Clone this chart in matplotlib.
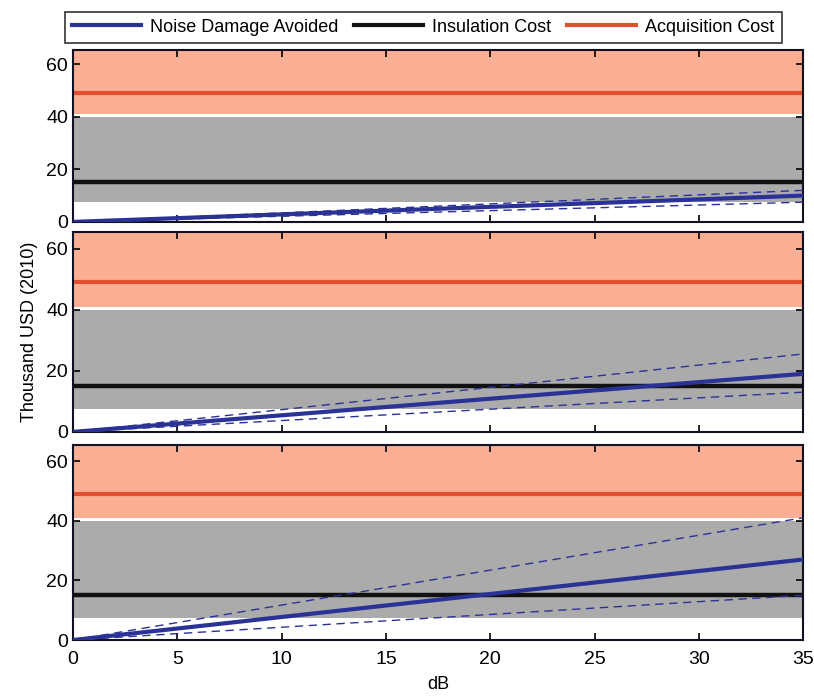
import matplotlib
matplotlib.use('Agg')
import matplotlib.pyplot as plt
from matplotlib.lines import Line2D

plt.rcParams['font.family'] = ['Liberation Sans', 'DejaVu Sans']

# x range endpoints (dB)
db = [0, 35]

# cost levels (thousand USD)
acq_cost = 49
acq_band = (41, 66)
ins_cost = 15
ins_band = (7.5, 40)

# noise damage avoided per panel: central, upper, lower at db endpoints
noise_mid = [[0, 10], [0, 19], [0, 27]]
noise_hi = [[0, 12], [0, 25.5], [0, 41]]
noise_lo = [[0, 7.5], [0, 13], [0, 15]]

xticks = [0, 5, 10, 15, 20, 25, 30, 35]
yticks = [0, 20, 40, 60]

blue = '#2b3296'
red = '#e0502e'
band_red = '#faae93'
band_grey = '#ababab'

fig = plt.figure(figsize=(8.14, 7), dpi=100)
rects = [
    [0.0897, 0.683, 0.897, 0.246],
    [0.0897, 0.383, 0.897, 0.286],
    [0.0897, 0.0857, 0.897, 0.279],
]

axes = []
for i, r in enumerate(rects):
    ax = fig.add_axes(r)
    ax.axhspan(acq_band[0], acq_band[1], color=band_red, lw=0, zorder=0)
    ax.axhspan(ins_band[0], ins_band[1], color=band_grey, lw=0, zorder=0)
    ax.plot(db, [acq_cost, acq_cost], color=red, lw=3, zorder=2)
    ax.plot(db, [ins_cost, ins_cost], color='#111111', lw=3.2, zorder=2)
    ax.plot(db, noise_hi[i], color=blue, lw=1, ls=(0, (6, 4)), zorder=3)
    ax.plot(db, noise_lo[i], color=blue, lw=1, ls=(0, (6, 4)), zorder=3)
    ax.plot(db, noise_mid[i], color=blue, lw=3, zorder=4)
    ax.set_xlim(0, 35)
    ax.set_ylim(0, 65.5)
    ax.set_xticks(xticks)
    ax.set_yticks(yticks)
    ax.tick_params(direction='in', top=True, right=True, labelsize=14, width=1.2, length=5)
    ax.tick_params(axis='x', pad=8)
    for s in ax.spines.values():
        s.set_linewidth(1.5)
        s.set_color('#111122')
    if i < 2:
        ax.set_xticklabels([])
    axes.append(ax)

axes[2].set_xlabel('dB', fontsize=13, labelpad=6)
axes[1].set_ylabel('Thousand USD (2010)', fontsize=13, labelpad=6)

handles = [
    Line2D([], [], color=blue, lw=3),
    Line2D([], [], color='#111111', lw=3),
    Line2D([], [], color=red, lw=3),
]
labels = ['Noise Damage Avoided', 'Insulation Cost', 'Acquisition Cost']
leg = fig.legend(handles, labels, loc='center', ncol=3, fontsize=13,
                 bbox_to_anchor=(0.52, 0.961), frameon=True, fancybox=False,
                 edgecolor='black', handlelength=3.8, columnspacing=0.9,
                 handletextpad=0.5, borderpad=0.4)
leg.get_frame().set_linewidth(1.2)

fig.savefig('out.png', dpi=100)
